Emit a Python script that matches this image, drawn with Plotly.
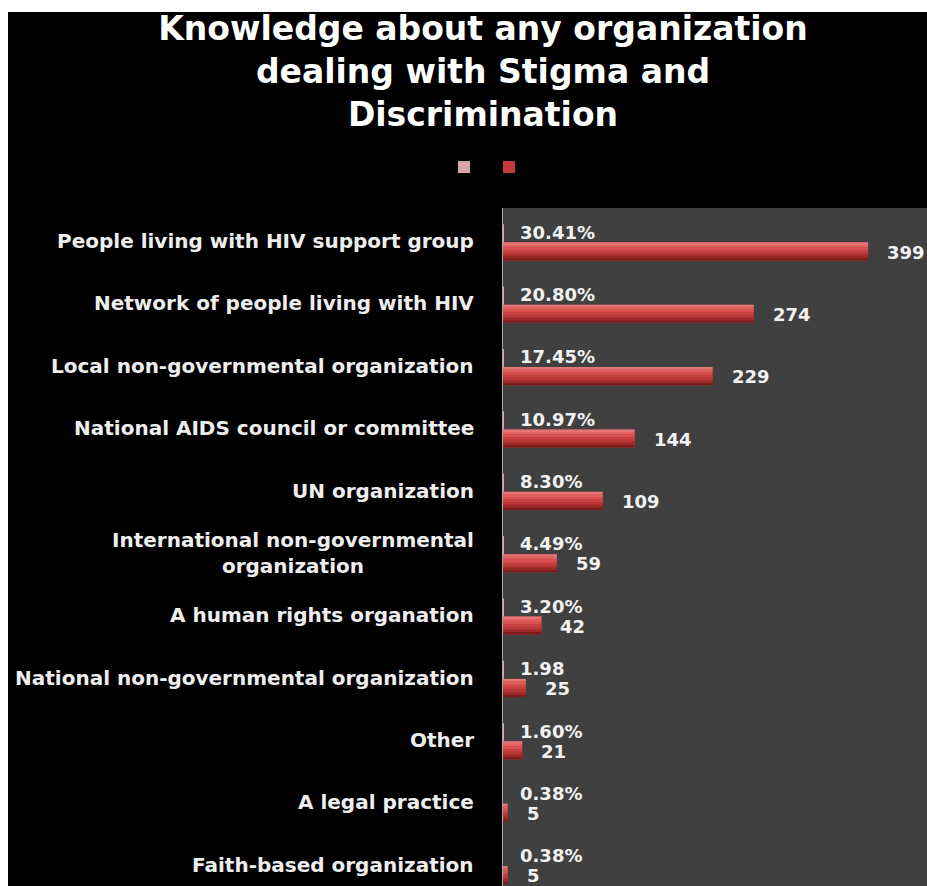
import plotly.graph_objects as go

# Survey results: knowledge about organizations dealing with stigma and discrimination
categories = [
    "People living with HIV support group",
    "Network of people living with HIV",
    "Local non-governmental organization",
    "National AIDS council or committee",
    "UN organization",
    "International non-governmental<br>organization",
    "A human rights organation",
    "National non-governmental organization",
    "Other",
    "A legal practice",
    "Faith-based organization",
]
counts = [399, 274, 229, 144, 109, 59, 42, 25, 21, 5, 5]
percent_values = [30.41, 20.80, 17.45, 10.97, 8.30, 4.49, 3.20, 1.98, 1.60, 0.38, 0.38]
percent_labels = ["30.41%", "20.80%", "17.45%", "10.97%", "8.30%", "4.49%",
                  "3.20%", "1.98", "1.60%", "0.38%", "0.38%"]

W, H = 927, 886
L, T = 503, 208
plot_w, plot_h = W - L, H - T
pos = list(range(len(categories)))
bar_w = 0.29
shift = 0.02

fig = go.Figure()

# share series (fractions, almost zero length on the count scale)
fig.add_trace(go.Bar(
    x=[p / 100 for p in percent_values], y=pos, orientation="h",
    width=bar_w, offset=shift - bar_w, marker=dict(color="#d9a3aa", line=dict(width=0)),
    name="", hoverinfo="skip",
))
# count series
fig.add_trace(go.Bar(
    x=counts, y=pos, orientation="h",
    width=bar_w, offset=shift, marker=dict(color="#c23a3a", line=dict(width=0)),
    name="", hoverinfo="x",
))
# cylinder shading on the count bars: horizontal bands from light top to dark bottom
shade = ["#e47676", "#e26262", "#d65050", "#c84242", "#b83636", "#a02a2a", "#7e1c1c"]
band = bar_w / len(shade)
for k, col in enumerate(shade):
    fig.add_trace(go.Bar(
        x=counts, y=pos, orientation="h",
        width=band, offset=shift + k * band, marker=dict(color=col, line=dict(width=0)),
        showlegend=False, hoverinfo="skip",
    ))

annotations = []
label_font = dict(family="DejaVu Sans", size=18, color="#f2f2f2", weight="bold")
for i, cat in enumerate(categories):
    annotations.append(dict(
        x=0, y=i, xref="x", yref="y", xshift=-27, xanchor="right", yanchor="middle",
        text=cat, align="center", showarrow=False,
        font=dict(family="DejaVu Sans", size=20, color="#eeeeee", weight="bold"),
    ))
    annotations.append(dict(
        x=percent_values[i] / 100, y=i, xref="x", yref="y", xshift=15, yshift=9,
        xanchor="left", yanchor="middle", text=percent_labels[i], showarrow=False,
        font=label_font,
    ))
    annotations.append(dict(
        x=counts[i], y=i, xref="x", yref="y", xshift=17, yshift=-11,
        xanchor="left", yanchor="middle", text=str(counts[i]), showarrow=False,
        font=label_font,
    ))

# thin white frame strips along the top and left edges
px2x = lambda px: (px - L) / plot_w
py2y = lambda py: (H - py) / plot_h
shapes = [
    dict(type="rect", xref="paper", yref="paper", x0=px2x(0), x1=px2x(W), y0=py2y(12), y1=py2y(0),
         fillcolor="white", line=dict(width=0), layer="below"),
    dict(type="rect", xref="paper", yref="paper", x0=px2x(0), x1=px2x(8), y0=py2y(H), y1=py2y(0),
         fillcolor="white", line=dict(width=0), layer="below"),
]

fig.update_layout(
    width=W, height=H,
    margin=dict(l=L, r=0, t=T, b=0, pad=0),
    paper_bgcolor="black",
    plot_bgcolor="#404040",
    barmode="overlay",
    title=dict(
        text="Knowledge about any organization<br>dealing with Stigma and<br>Discrimination",
        x=483 / W, xref="container", xanchor="center",
        y=1 - 40 / H, yref="container", yanchor="top",
        font=dict(family="DejaVu Sans", size=33, color="white", weight="bold"),
    ),
    legend=dict(
        orientation="h", x=px2x(489), xanchor="center", y=py2y(167), yanchor="middle",
        bgcolor="rgba(0,0,0,0)", font=dict(size=10, color="white"),
    ),
    xaxis=dict(range=[0, plot_w / 0.915], showgrid=False, zeroline=False,
               showticklabels=False, fixedrange=True),
    yaxis=dict(range=[10.34, -0.53], showgrid=False, zeroline=False,
               showticklabels=False, showline=True, linecolor="#a8a8a8", linewidth=1,
               fixedrange=True),
    annotations=annotations,
    shapes=shapes,
    showlegend=True,
)

fig.write_html("out.html")
